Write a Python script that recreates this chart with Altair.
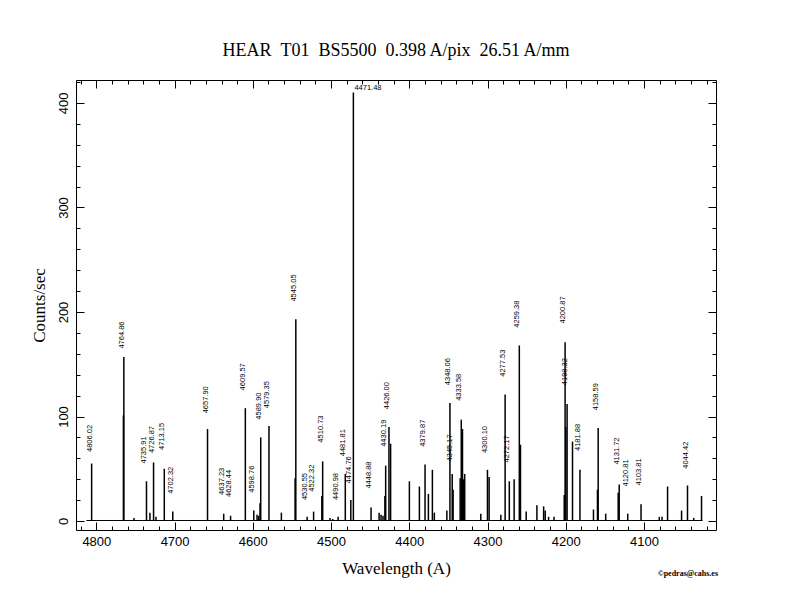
import altair as alt
import pandas as pd

# ---------------- data ----------------
# emission lines: wavelength (A) and peak counts/sec
line_wl = [4806.02, 4764.86, 4765.4, 4751.9, 4735.91, 4731.5, 4726.87, 4723.8, 4713.15, 4702.32,
           4657.90, 4637.23, 4628.44, 4609.57, 4598.76, 4594.6, 4592.5, 4590.8, 4589.90, 4579.35,
           4563.5, 4546.0, 4545.05, 4530.55, 4522.32, 4511.8, 4510.73, 4501.3, 4497.8, 4490.98,
           4481.81, 4474.76, 4471.48, 4448.88, 4438.6, 4436.1, 4433.6, 4431.2, 4430.19, 4426.00,
           4423.9, 4399.9, 4387.1, 4379.87, 4375.6, 4370.5, 4368.0, 4352.0, 4348.06, 4345.17,
           4344.0, 4335.0, 4333.58, 4332.0, 4330.5, 4329.2, 4308.6, 4300.10, 4298.0, 4283.0,
           4277.53, 4272.17, 4266.0, 4259.38, 4257.9, 4250.6, 4236.9, 4228.3, 4226.3, 4222.0,
           4215.0, 4202.0, 4200.87, 4199.9, 4198.32, 4191.4, 4181.88, 4164.6, 4159.5, 4158.59,
           4148.98, 4133.0, 4131.72, 4120.81, 4103.81, 4080.5, 4077.0, 4069.9, 4052.0, 4044.42,
           4036.5, 4026.5]
line_counts = [55, 157, 101, 3, 38, 8, 56, 4, 50, 9,
               88, 7, 5, 108, 10, 6, 5, 17, 80, 91,
               8, 41, 193, 4, 9, 24, 57, 3, 2, 4,
               45, 20, 410, 13, 8, 6, 5, 24, 53, 90,
               74, 38, 33, 54, 26, 49, 8, 10, 113, 45,
               30, 41, 97, 88, 40, 45, 7, 49, 42, 6,
               121, 38, 40, 168, 73, 9, 15, 14, 10, 4,
               4, 25, 171, 90, 112, 76, 49, 11, 30, 89,
               7, 27, 35, 7, 16, 4, 4, 33, 10, 34,
               3, 24]

# vertical line identifications and the height (counts/sec) where each label starts
label_text = ["4806.02", "4764.86", "4735.91", "4726.87", "4713.15", "4702.32", "4657.90",
              "4637.23", "4628.44", "4609.57", "4598.76", "4589.90", "4579.35", "4545.05",
              "4530.55", "4522.32", "4510.73", "4490.98", "4481.81", "4474.76", "4448.88",
              "4430.19", "4426.00", "4379.87", "4348.06", "4345.17", "4333.58", "4300.10",
              "4277.53", "4272.17", "4259.38", "4200.87", "4198.32", "4181.88", "4158.59",
              "4131.72", "4120.81", "4103.81", "4044.42"]
label_y = [66, 165, 55, 65, 68, 26, 103,
           25, 23, 125, 27, 97, 108, 210,
           20, 28, 75, 20, 62, 36, 31,
           71, 107, 71, 130, 57, 115, 65,
           138, 56, 185, 189, 130, 67, 106,
           54, 33, 34, 50]

# the strongest line is labelled horizontally at the top
peak_text = ["4471.48"]
peak_y = [412]

# continuum extent of the spectrum
cont_start = [4812.7]
cont_end = [4025.3]
cont_level = [0.5]

# tick values
x_major = [4100, 4200, 4300, 4400, 4500, 4600, 4700, 4800]
x_minor = list(range(4020, 4821, 20))
y_major = [0, 100, 200, 300, 400]
y_minor = list(range(0, 421, 20))

title_text = "HEAR \u00a0T01 \u00a0BS5500 \u00a00.398 A/pix \u00a026.51 A/mm"
credit_text = ["\u00a9pedras@cahs.es"]

# ---------------- chart ----------------
SANS = "Liberation Sans"
SERIF = "Liberation Serif"
MAJ, MIN = 8, 4

lines_df = pd.DataFrame({"wl": line_wl, "c": line_counts, "z": [0] * len(line_wl)})
labels_df = pd.DataFrame({"wl": [float(t) for t in label_text], "t": label_text, "y": label_y})
peak_df = pd.DataFrame({"wl": [float(t) for t in peak_text], "t": peak_text, "y": peak_y})
cont_df = pd.DataFrame({"wl": cont_start, "wl2": cont_end, "c": cont_level})
credit_df = pd.DataFrame({"t": credit_text})

xs = alt.Scale(domain=[4008, 4826], reverse=True, nice=False, zero=False)
ys = alt.Scale(domain=[-8.6, 422], nice=False, zero=False)


def axis(orient, values, size, **kw):
    opts = dict(orient=orient, values=values, tickSize=size, offset=-size, domain=False,
                grid=False, ticks=True, tickColor="black", tickWidth=1, labels=False,
                title=None)
    opts.update(kw)
    return alt.Axis(**opts)


x_bottom = axis("bottom", x_major, MAJ, labels=True, format="d", labelFont=SANS,
                labelFontSize=13, labelColor="black", labelPadding=5, labelFlush=False,
                title="Wavelength (A)", titleFont=SERIF, titleFontSize=17,
                titleFontWeight="normal", titleColor="black", titlePadding=12)
y_left = axis("left", y_major, MAJ, labels=True, format="d", labelFont=SANS, labelFontSize=13,
              labelColor="black", labelPadding=9, labelAngle=270, labelAlign="center",
              labelBaseline="alphabetic", labelFlush=False,
              title="Counts/sec", titleFont=SERIF, titleFontSize=17,
              titleFontWeight="normal", titleColor="black", titlePadding=9)

rules = alt.Chart(lines_df).mark_rule(color="black", strokeWidth=1.5).encode(
    x=alt.X("wl:Q", scale=xs, axis=x_bottom),
    y=alt.Y("c:Q", scale=ys, axis=y_left),
    y2="z:Q",
)

cont = alt.Chart(cont_df).mark_rule(color="black", strokeWidth=1).encode(
    x=alt.X("wl:Q", scale=xs, axis=axis("bottom", x_minor, MIN)),
    x2="wl2:Q",
    y=alt.Y("c:Q", scale=ys, axis=axis("left", y_minor, MIN)),
)

labels = alt.Chart(labels_df).mark_text(
    angle=270, align="left", baseline="alphabetic", font=SANS, fontSize=7.5, color="black"
).encode(
    x=alt.X("wl:Q", scale=xs, axis=axis("top", x_major, MAJ)),
    y=alt.Y("y:Q", scale=ys, axis=axis("right", y_major, MAJ)),
    text="t:N",
)

peak = alt.Chart(peak_df).mark_text(
    align="left", baseline="alphabetic", font=SANS, fontSize=7.5, color="black", dx=1
).encode(
    x=alt.X("wl:Q", scale=xs, axis=axis("top", x_minor, MIN)),
    y=alt.Y("y:Q", scale=ys, axis=axis("right", y_minor, MIN)),
    text="t:N",
)

credit = alt.Chart(credit_df).mark_text(
    align="right", baseline="middle", font=SERIF, fontSize=8, fontWeight="bold", color="black"
).encode(x=alt.value(642), y=alt.value(494), text="t:N")

chart = alt.layer(rules, cont, labels, peak, credit).resolve_axis(
    x="independent", y="independent"
).properties(
    width=640,
    height=450,
    title=alt.TitleParams(title_text, font=SERIF, fontSize=18, fontWeight="normal",
                          color="black", anchor="middle", baseline="alphabetic", offset=6),
    autosize=alt.AutoSizeParams(type="none"),
    padding={"left": 68, "top": 72, "right": 68, "bottom": 74},
    background="white",
).configure_view(stroke="black", strokeWidth=1)

chart.save("out.html", embed_options={"renderer": "svg", "actions": False})
